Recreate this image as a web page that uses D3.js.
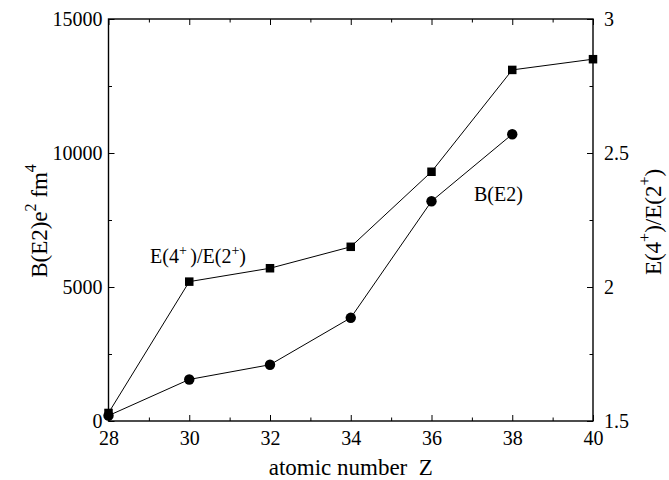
<!DOCTYPE html>
<html>
<head>
<meta charset="utf-8">
<script src="https://cdn.jsdelivr.net/npm/d3@7"></script>
</head>
<body style="margin:0; background:#fff">
<script>
// B(E2) values, circles
const be2Z = [28, 30, 32, 34, 36, 38];
const be2Values = [200, 1550, 2100, 3850, 8200, 10700];

// E(4+)/E(2+) ratio, squares
const ratioZ = [28, 30, 32, 34, 36, 38, 40];
const ratioValues = [1.53, 2.02, 2.07, 2.15, 2.43, 2.81, 2.85];

const xTicks = [28, 30, 32, 34, 36, 38, 40];
const xMinorTicks = [29, 31, 33, 35, 37, 39];
const leftTicks = [0, 5000, 10000, 15000];
const leftMinorTicks = [2500, 7500, 12500];
const rightTicks = [1.5, 2, 2.5, 3];
const rightMinorTicks = [1.75, 2.25, 2.75];

const margin = {top: 19, right: 76, bottom: 59, left: 108.5};
const svgSize = {width: 669, height: 480};
const chartSize = {width: svgSize.width - margin.left - margin.right, height: svgSize.height - margin.top - margin.bottom};

const svg = d3.select('body').append('svg')
	.attr('width', svgSize.width)
	.attr('height', svgSize.height)
	.attr('font-family', 'Liberation Serif');

const x = d3.scaleLinear().domain([28, 40]).range([0, chartSize.width]);
const yLeft = d3.scaleLinear().domain([0, 15000]).range([chartSize.height, 0]);
const yRight = d3.scaleLinear().domain([1.5, 3]).range([chartSize.height, 0]);

const g = svg.append('g').attr('transform', `translate(${margin.left}, ${margin.top})`);

const major = 6, minor = 3.5;

// ticks pointing inward on all four sides
function styleAxis(sel) {
	sel.attr('font-size', 20).attr('font-family', 'Liberation Serif');
	sel.select('.domain').remove();
	sel.selectAll('line').attr('stroke', '#000').attr('stroke-width', 1);
	sel.selectAll('text')
		.attr('fill', '#000')
		.attr('font-family', 'Liberation Serif')
		.style('font-family', '"Liberation Serif"');
}

g.append('g').attr('transform', `translate(0, ${chartSize.height})`)
	.call(d3.axisBottom(x).tickValues(xTicks).tickSize(-major).tickPadding(10).tickFormat(d3.format('d')))
	.call(styleAxis);
g.append('g').attr('transform', `translate(0, ${chartSize.height})`)
	.call(d3.axisBottom(x).tickValues(xMinorTicks).tickSize(-minor).tickFormat(''))
	.call(styleAxis);
g.append('g')
	.call(d3.axisTop(x).tickValues(xTicks).tickSize(-major).tickFormat(''))
	.call(styleAxis);
g.append('g')
	.call(d3.axisTop(x).tickValues(xMinorTicks).tickSize(-minor).tickFormat(''))
	.call(styleAxis);

g.append('g')
	.call(d3.axisLeft(yLeft).tickValues(leftTicks).tickSize(-major).tickPadding(6).tickFormat(d3.format('d')))
	.call(styleAxis);
g.append('g')
	.call(d3.axisLeft(yLeft).tickValues(leftMinorTicks).tickSize(-minor).tickFormat(''))
	.call(styleAxis);

g.append('g').attr('transform', `translate(${chartSize.width}, 0)`)
	.call(d3.axisRight(yRight).tickValues(rightTicks).tickSize(-major).tickPadding(11).tickFormat(d => d))
	.call(styleAxis);
g.append('g').attr('transform', `translate(${chartSize.width}, 0)`)
	.call(d3.axisRight(yRight).tickValues(rightMinorTicks).tickSize(-minor).tickFormat(''))
	.call(styleAxis);

g.append('rect')
	.attr('width', chartSize.width)
	.attr('height', chartSize.height)
	.attr('fill', 'none')
	.attr('stroke', '#000')
	.attr('stroke-width', 1.4);

// lines
const be2Data = be2Z.map((z, i) => ({z: z, v: be2Values[i]}));
const ratioData = ratioZ.map((z, i) => ({z: z, v: ratioValues[i]}));

g.append('path')
	.datum(be2Data)
	.attr('fill', 'none')
	.attr('stroke', '#000')
	.attr('stroke-width', 1)
	.attr('d', d3.line().x(d => x(d.z)).y(d => yLeft(d.v)));

g.append('path')
	.datum(ratioData)
	.attr('fill', 'none')
	.attr('stroke', '#000')
	.attr('stroke-width', 1)
	.attr('d', d3.line().x(d => x(d.z)).y(d => yRight(d.v)));

g.selectAll('circle')
	.data(be2Data)
	.enter()
	.append('circle')
	.attr('cx', d => x(d.z))
	.attr('cy', d => yLeft(d.v))
	.attr('r', 5.2)
	.attr('fill', '#000');

const sq = 8.5;
g.selectAll('rect.sq')
	.data(ratioData)
	.enter()
	.append('rect')
	.attr('class', 'sq')
	.attr('x', d => x(d.z) - sq / 2)
	.attr('y', d => yRight(d.v) - sq / 2)
	.attr('width', sq)
	.attr('height', sq)
	.attr('fill', '#000');

// annotations
const ann1 = svg.append('text')
	.attr('x', 150)
	.attr('y', 263)
	.attr('font-size', 20);
ann1.append('tspan').text('E(4');
ann1.append('tspan').attr('dy', -8).attr('font-size', 14).text('+ ');
ann1.append('tspan').attr('dy', 8).text(')/E(2');
ann1.append('tspan').attr('dy', -8).attr('font-size', 14).text('+');
ann1.append('tspan').attr('dy', 8).text(')');

svg.append('text')
	.attr('x', 474)
	.attr('y', 201)
	.attr('font-size', 20)
	.text('B(E2)');

// axis titles
svg.append('text')
	.attr('x', margin.left + chartSize.width / 2)
	.attr('y', 475)
	.attr('text-anchor', 'middle')
	.attr('font-size', 23)
	.style('white-space', 'pre')
	.text('atomic number  Z');

const lt = svg.append('text')
	.attr('transform', 'translate(47, 221) rotate(-90)')
	.attr('text-anchor', 'middle')
	.attr('font-size', 23);
lt.append('tspan').text('B(E2)e');
lt.append('tspan').attr('dy', -11).attr('font-size', 16).text('2');
lt.append('tspan').attr('dy', 11).style('white-space', 'pre').text(' fm');
lt.append('tspan').attr('dy', -11).attr('font-size', 16).text('4');

const rt = svg.append('text')
	.attr('transform', 'translate(661, 222) rotate(-90)')
	.attr('text-anchor', 'middle')
	.attr('font-size', 23);
rt.append('tspan').text('E(4');
rt.append('tspan').attr('dy', -11).attr('font-size', 16).text('+');
rt.append('tspan').attr('dy', 11).text(')/E(2');
rt.append('tspan').attr('dy', -11).attr('font-size', 16).text('+');
rt.append('tspan').attr('dy', 11).text(')');

// serif face on every text, set inline
svg.selectAll('text').style('font-family', '"Liberation Serif"');
</script>
</body>
</html>
